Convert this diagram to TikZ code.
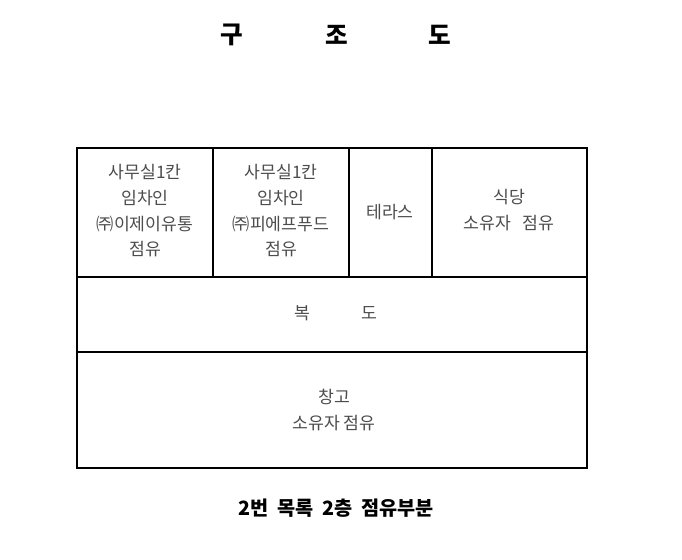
\documentclass[tikz,border=0pt]{standalone}
\usepackage{fontspec}
\setmainfont{Noto Sans CJK KR}
\tikzset{
    room/.style={align=center, font=\fontsize{9.8}{14.6}\selectfont, text=black!70},
    heading/.style={font=\fontsize{14}{16}\selectfont\bfseries},
}
\begin{document}
\begin{tikzpicture}[x=0.02cm, y=-0.02cm]
    \useasboundingbox (0, 0) rectangle (682, 559);
    \coordinate (tl) at (77, 148);
    \coordinate (br) at (587, 468);

    \draw[thick] (tl) rectangle (br);
    \draw[thick] (77, 277) -- (587, 277);
    \draw[thick] (77, 352) -- (587, 352);
    \draw[thick] (213, 148) -- (213, 277);
    \draw[thick] (349, 148) -- (349, 277);
    \draw[thick] (432, 148) -- (432, 277);

    \node [heading] (gu) at (232, 35) {구};
    \node [heading] (jo) at (337, 35) {조};
    \node [heading] (do) at (440, 35) {도};

    \node [room] (office1) at (145, 211) {사무실1칸\\임차인\\㈜이제이유통\\점유};
    \node [room] (office2) at (281, 211) {사무실1칸\\임차인\\㈜피에프푸드\\점유};
    \node [room] (terrace) at (390, 212) {테라스};
    \node [room] (diner) at (509, 210) {식당\\소유자\hspace{0.7em}점유};
    \node [room] (hall) at (336, 313) {복\hspace{3em}도};
    \node [room] (store) at (334, 410) {창고\\소유자 점유};

    \node [font=\fontsize{11.2}{13}\selectfont\bfseries] (caption) at (336, 508)
        {2번\hspace{0.45em}목록\hspace{0.45em}2층\hspace{0.45em}점유부분};
\end{tikzpicture}
\end{document}
